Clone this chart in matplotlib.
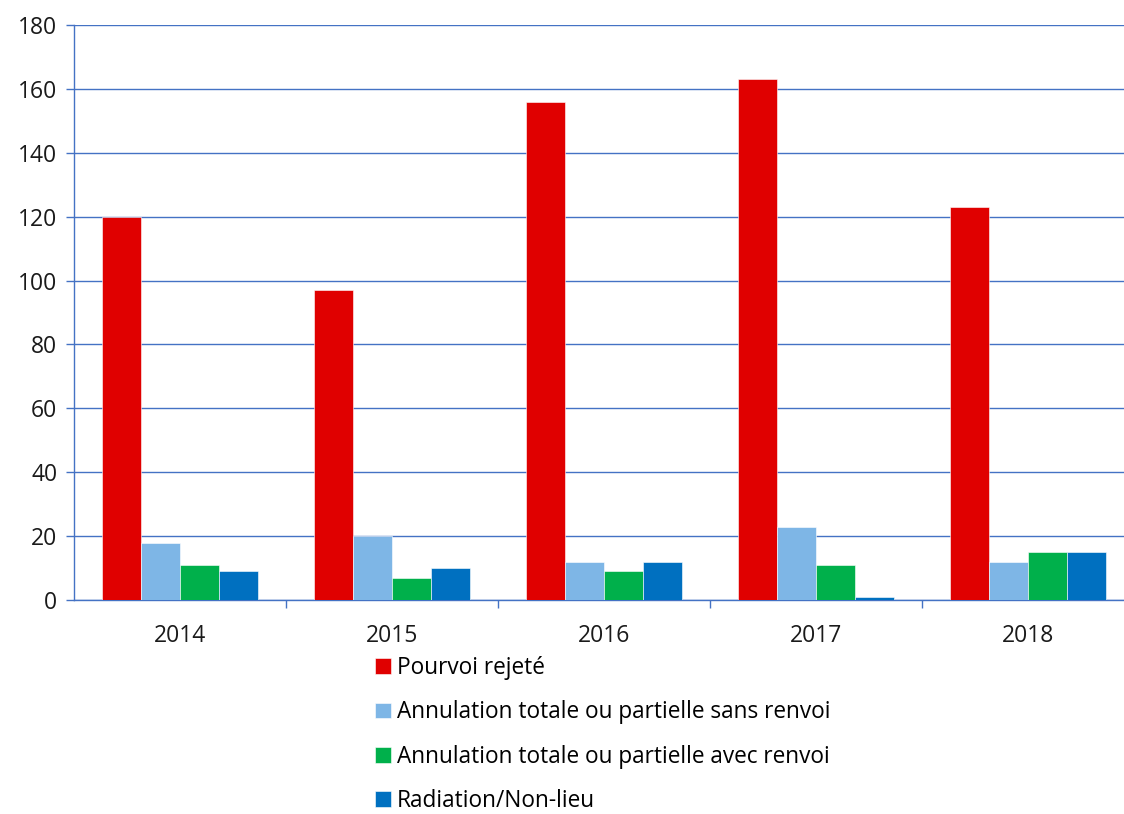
import matplotlib
matplotlib.use("Agg")
import matplotlib.pyplot as plt
import numpy as np

plt.rcParams['font.family'] = ['Open Sans', 'DejaVu Sans']

annees = ["2014", "2015", "2016", "2017", "2018"]
pourvoiRejete = [120, 97, 156, 163, 123]
sansRenvoi = [18, 20, 12, 23, 12]
avecRenvoi = [11, 7, 9, 11, 15]
radiation = [9, 10, 12, 1, 15]

libelles = ["Pourvoi rejeté",
            "Annulation totale ou partielle sans renvoi",
            "Annulation totale ou partielle avec renvoi",
            "Radiation/Non-lieu"]
couleurs = ["#E00000", "#7EB6E6", "#00B04B", "#0070C0"]
grille = "#4472C4"

fig = plt.figure(figsize=(11.24, 8.14), dpi=100)
# l'axe depasse un peu a droite, comme sur l'original (grille coupee au bord)
ax = fig.add_axes([74 / 1124, 214 / 814, 1060 / 1124, 575 / 814])

x = np.arange(len(annees))
largeur = 0.183
series = [pourvoiRejete, sansRenvoi, avecRenvoi, radiation]
for i, (valeurs, couleur, libelle) in enumerate(zip(series, couleurs, libelles)):
    ax.bar(x + (i - 1.5) * largeur, valeurs, largeur, color=couleur, label=libelle,
           edgecolor="white", linewidth=0.4, zorder=3)

ax.set_xlim(-0.5, len(annees) - 0.5)
ax.set_ylim(0, 180)
ax.set_yticks(range(0, 181, 20))
ax.yaxis.grid(True, color=grille, linewidth=1.0, zorder=0)

ax.set_xticks(x)
ax.set_xticklabels(annees)
ax.set_xticks(np.arange(0.5, len(annees) - 0.5, 1), minor=True)
ax.tick_params(axis='x', which='major', length=0, pad=17, labelsize=16.5, colors='#1a1a1a')
ax.tick_params(axis='x', which='minor', length=6, color=grille, width=1)
ax.tick_params(axis='y', length=6, color=grille, width=1, labelsize=16.5, labelcolor='#1a1a1a', pad=6)

for cote in ['top', 'right']:
    ax.spines[cote].set_visible(False)
for cote in ['left', 'bottom']:
    ax.spines[cote].set_color(grille)
    ax.spines[cote].set_linewidth(1.0)

fig.legend(loc='upper left', bbox_to_anchor=(366 / 1124, 1 - 647 / 814), frameon=False,
           fontsize=16.3, handlelength=0.7, handleheight=0.7, handletextpad=0.25,
           labelspacing=0.9, borderaxespad=0)

plt.savefig("out.png", dpi=100)
